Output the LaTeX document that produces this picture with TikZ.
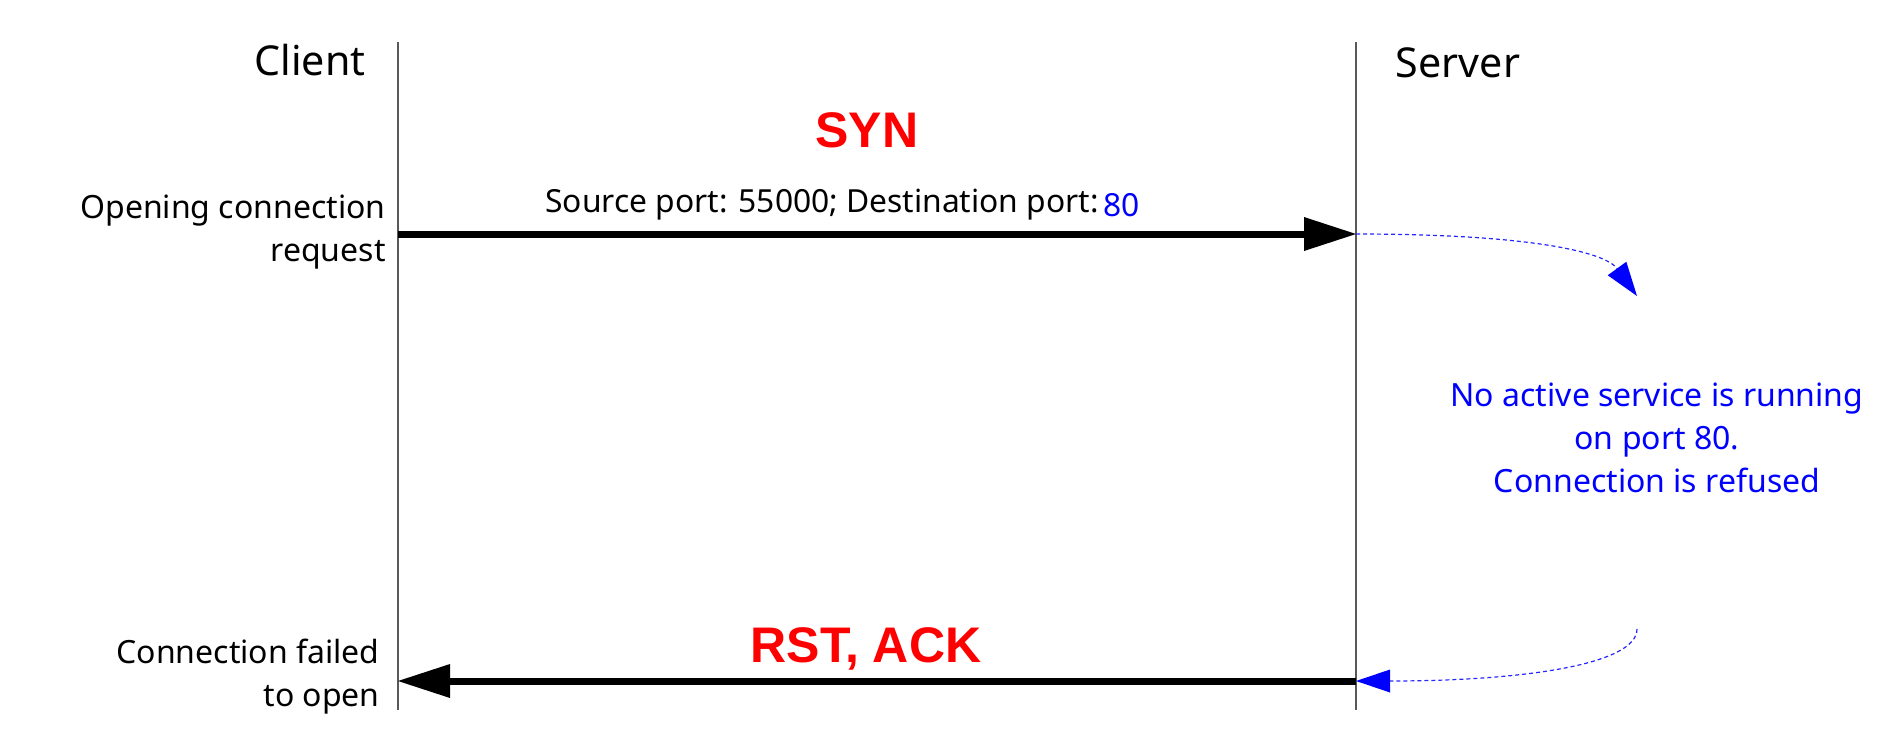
\documentclass[tikz,border=0pt]{standalone}
\usepackage{fontspec}
\setmainfont{Noto Sans}
\newfontfamily\flagfont{Liberation Sans}
\usetikzlibrary{arrows.meta,positioning}
\tikzset{
  lifeline/.style={draw=black!65, line width=0.6pt},
  msgflow/.style={line width=3.5pt, -{Triangle[length=26pt,width=17pt,line width=0pt]}},
  noteflow/.style={blue!85, line width=0.6pt, dash pattern=on 2pt off 1.5pt,
    -{Triangle[length=17pt,width=11.5pt,line width=0pt,fill=blue,color=blue]}},
  partylabel/.style={font=\fontsize{20.6}{24}\selectfont, inner sep=0pt},
  portlabel/.style={font=\fontsize{15.9}{21.5}\selectfont, inner sep=0pt, anchor=base west},
  sidelabel/.style={font=\fontsize{16}{21.5}\selectfont, align=right, inner sep=0pt},
  flaglabel/.style={font=\fontsize{25}{28}\selectfont\flagfont\bfseries, text=red, inner sep=0pt},
  notelabel/.style={font=\fontsize{16}{21.5}\selectfont, align=center, text=blue, inner sep=0pt}
}
\begin{document}
\begin{tikzpicture}[x=0.5pt, y=-0.5pt]
\useasboundingbox (0,0) rectangle (1886,729);
\coordinate (cltop) at (398,42);
\coordinate (clbot) at (398,710);
\coordinate (svtop) at (1356,42);
\coordinate (svbot) at (1356,710);
\draw[lifeline] (cltop) -- (clbot);
\draw[lifeline] (svtop) -- (svbot);

\node[partylabel] (client) at (310,60) {Client};
\node[partylabel] (server) at (1458,63) {Server};

\coordinate (synL) at (398,234);
\coordinate (synR) at (1356,234);
\coordinate (rstL) at (398,681);
\coordinate (rstR) at (1356,681);
\coordinate (noteTop) at (1637,296);
\coordinate (noteBot) at (1637,629);

\node[flaglabel] (syn) at (867,130) {SYN};
\node[portlabel] (ports) at (545,212) {Source port: 55000; Destination port:};
\node[portlabel, text=blue] (dport) at ([xshift=2pt,yshift=-2pt]ports.base east) {80};
\node[flaglabel] (rst) at (866,649) {RST, ACK};

\node[sidelabel, anchor=east] (opening) at (386,232) {Opening connection\\request};
\node[sidelabel, anchor=east] (failed) at (380,677) {Connection failed\\to open};
\node[notelabel] (refused) at (1657,438) {No active service is running\\on port 80.\\Connection is refused};

\draw[msgflow] (synL) -- (synR);
\draw[msgflow] (rstR) -- (rstL);
\draw[noteflow] (synR) .. controls (1530,234) and (1605,252) .. (noteTop);
\draw[noteflow] (noteBot) .. controls (1637,665) and (1520,681) .. (rstR);
\end{tikzpicture}
\end{document}
